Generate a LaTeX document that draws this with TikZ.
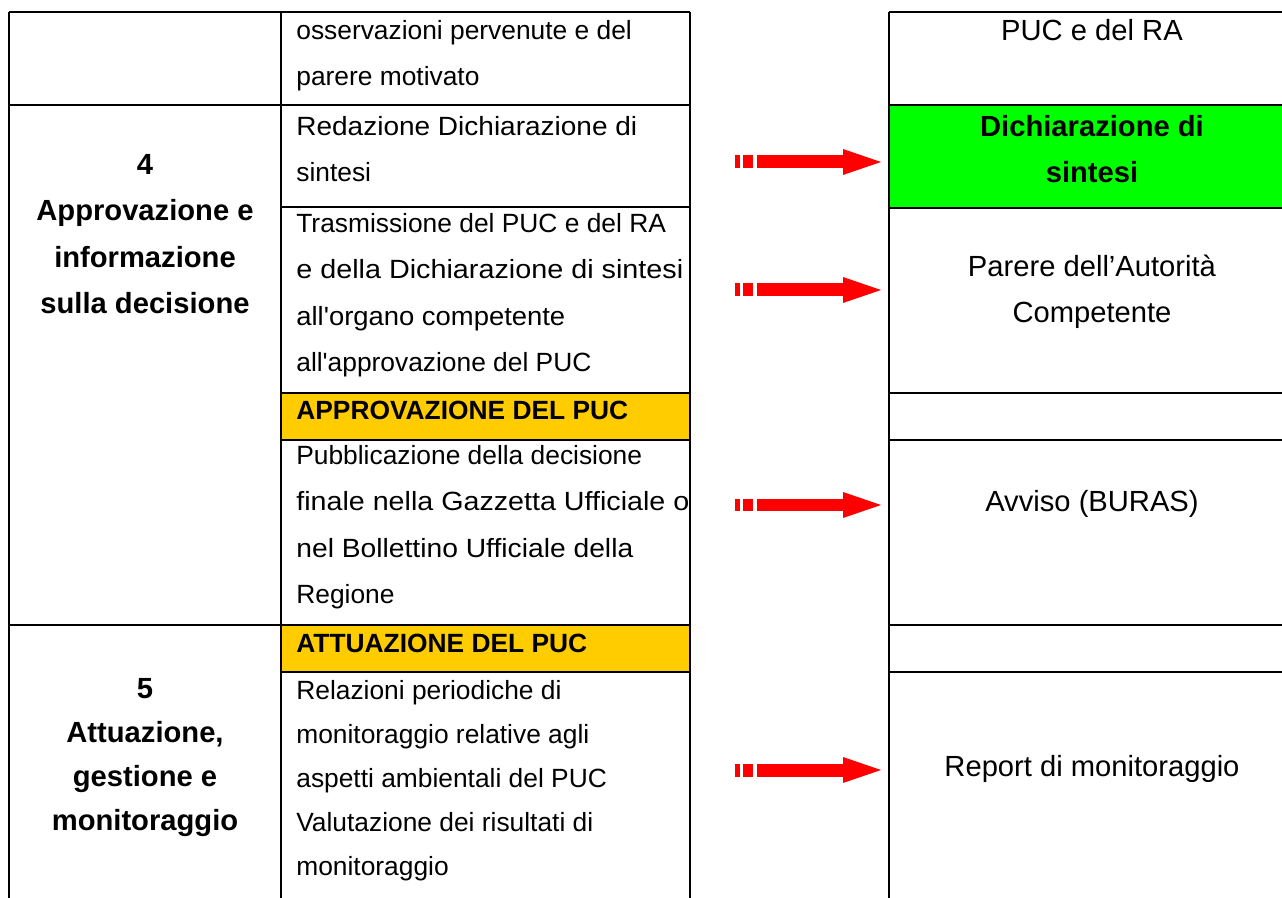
\documentclass[tikz,border=0pt]{standalone}
\usepackage{fontspec}
\setmainfont{Liberation Sans}
\usepackage{tikz}
\usetikzlibrary{arrows.meta,positioning}
\definecolor{vasgreen}{HTML}{00FF00}
\definecolor{vasorange}{HTML}{FFCC00}
\newcommand{\fullline}[2]{\resizebox{#1}{\height}{#2}}
\tikzstyle{grid} = [line width=1.5pt]
\tikzstyle{midtext} = [anchor=base west,align=left,inner sep=0pt,font=\fontsize{15}{26.4}\selectfont]
\tikzstyle{phase} = [anchor=base,align=center,inner sep=0pt,font=\fontsize{16.6}{26.4}\selectfont\bfseries]
\tikzstyle{output} = [anchor=base,align=center,inner sep=0pt,font=\fontsize{16.6}{26.4}\selectfont]
\tikzstyle{blockarrow} = [draw=red,line width=0.26cm,dash pattern=on 0.1cm off 0.06cm on 0.2cm off 0.08cm on 5cm,-{Triangle[length=0.76cm,width=0.52cm,line width=0pt,fill=red]}]
\tikzset{>=latex}

\begin{document}
\begin{tikzpicture}[x=0.02cm,y=-0.02cm]
    \useasboundingbox (0,0) rectangle (1282,898);
    \fill [vasorange] (281,393) rectangle (690,440);
    \fill [vasorange] (281,625) rectangle (690,672);
    \fill [vasgreen] (889,105) rectangle (1282,208);
    \draw [grid] (9,12) -- (9,898) (281,12) -- (281,898) (690,12) -- (690,898) (889,12) -- (889,898);
    \draw [grid] (9,12) -- (690,12) (9,105) -- (690,105) (9,625) -- (690,625);
    \foreach \y in {207,393,440,672}
      \draw [grid] (281,\y) -- (690,\y);
    \foreach \y in {12,105,208,393,440,625,672}
      \draw [grid] (889,\y) -- (1282,\y);
    % the base anchor of a multi-line node sits on its last line
    \node [phase] (n4) at (145,313.5) {4\\Approvazione e\\informazione\\sulla decisione};
    \node [phase,font=\fontsize{16.6}{25}\selectfont\bfseries] (n5) at (145,830.5) {5\\Attuazione,\\gestione e\\monitoraggio};
    \node [midtext] (m0) at (296,86) {osservazioni pervenute e del\\parere motivato};
    \node [midtext] (m1) at (296,182) {\fullline{6.82cm}{Redazione Dichiarazione di}\\sintesi};
    \node [midtext] (m2) at (296,371.5) {Trasmissione del PUC e del RA\\\fullline{7.74cm}{e della Dichiarazione di sintesi}\\\fullline{5.38cm}{all\textquotesingle organo competente}\\all\textquotesingle approvazione del PUC};
    \node [midtext,font=\fontsize{15}{26.4}\selectfont\bfseries] (m3) at (296,420) {APPROVAZIONE DEL PUC};
    \node [midtext] (m4) at (296,603.5) {Pubblicazione della decisione\\\fullline{7.86cm}{finale nella Gazzetta Ufficiale o}\\\fullline{6.74cm}{nel Bollettino Ufficiale della}\\Regione};
    \node [midtext,font=\fontsize{15}{26.4}\selectfont\bfseries] (m5) at (296,652) {ATTUAZIONE DEL PUC};
    \node [midtext,font=\fontsize{15}{25}\selectfont] (m6) at (296,875) {Relazioni periodiche di\\monitoraggio relative agli\\aspetti ambientali del PUC\\Valutazione dei risultati di\\monitoraggio};
    \node [output] (r0) at (1092,41) {PUC e del RA};
    \node [output,font=\fontsize{16.6}{26.4}\selectfont\bfseries] (r1) at (1092,183) {Dichiarazione di\\sintesi};
    \node [output] (r2) at (1092,323) {Parere dell’Autorità\\Competente};
    \node [output] (r3) at (1092,512) {Avviso (BURAS)};
    \node [output] (r4) at (1092,776) {Report di monitoraggio};
    \foreach \y/\n in {162/1,290/2,505/3,770/4} {
      \coordinate (s\n) at (735,\y);
      \coordinate (t\n) at (881,\y);
      \draw [blockarrow] (s\n) -- (t\n);
    }
\end{tikzpicture}
\end{document}
